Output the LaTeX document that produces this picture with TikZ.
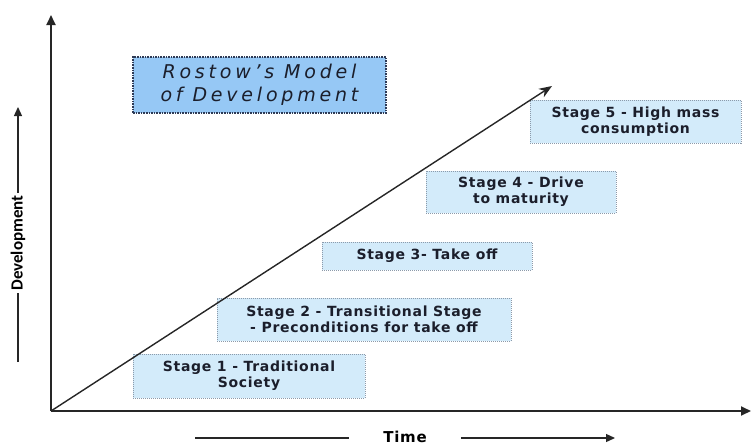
\documentclass[tikz,border=0pt]{standalone}
\usepackage{fontspec}
\setmainfont{DejaVu Sans}
\newfontfamily\stagefont[LetterSpace=5]{DejaVu Sans}
\newfontfamily\titlefont[LetterSpace=20]{DejaVu Sans}
\newfontfamily\axisfont{Carlito}
\usepackage{tikz}
\usetikzlibrary{arrows.meta,positioning}
\definecolor{TitleBlue}{HTML}{96C8F5}
\definecolor{StageBlue}{HTML}{D3EBFA}
\definecolor{DotGray}{HTML}{8C9AAA}
\definecolor{DotNavy}{HTML}{2E3A55}
\definecolor{InkDark}{HTML}{1B1E2B}

\begin{document}
\begin{tikzpicture}[
    x=1pt, y=-1pt,
    stagebox/.style={draw=DotGray, densely dotted, line width=1pt, fill=StageBlue, align=center, text=InkDark, inner sep=0pt, font=\stagefont\bfseries\fontsize{14}{16}\selectfont},
    titlebox/.style={draw=DotNavy, densely dotted, line width=1.6pt, fill=TitleBlue, align=center, text=InkDark, inner sep=0pt, minimum width=253pt, minimum height=56pt, font=\titlefont\itshape\fontsize{19}{23}\selectfont},
    axisarr/.style={line width=1.8pt, draw=black!85, -{Triangle[length=10pt, width=9pt]}},
    growarr/.style={line width=1.4pt, draw=black!85, -{Stealth[length=13pt, width=10pt]}},
    labelarr/.style={line width=1.3pt, draw=black!85, -{Triangle[length=9pt, width=8pt]}}
]
\useasboundingbox (0,0) rectangle (751,445);

% kasten
\node[titlebox] (title) at (259.5,85) {Rostow’s Model\\of Development};
\node[stagebox, minimum width=232pt, minimum height=44pt] (stage1) at (249,376) {Stage 1 - Traditional\\Society};
\node[stagebox, minimum width=294pt, minimum height=43pt] (stage2) at (364,319.5) {Stage 2 - Transitional Stage\\- Preconditions for take off};
\node[stagebox, minimum width=210pt, minimum height=28pt] (stage3) at (427,256) {Stage 3- Take off};
\node[stagebox, minimum width=190pt, minimum height=42pt] (stage4) at (521,192) {Stage 4 - Drive\\to maturity};
\node[stagebox, minimum width=211pt, minimum height=43pt] (stage5) at (635.5,121.5) {Stage 5 - High mass\\consumption};

% achsen
\coordinate (origin) at (51,411);
\coordinate (ytop) at (51,15);
\coordinate (xend) at (751,411);
\coordinate (peak) at (552,86);
\draw[axisarr] (origin) -- (ytop);
\draw[axisarr] (origin) -- (xend);
\draw[growarr] (origin) -- (peak);

% achsenbeschriftung
\node[rotate=90, inner sep=2pt, font=\axisfont\bfseries\fontsize{17}{20}\selectfont] (devlabel) at (18,243) {Development};
\coordinate (devlow) at (18,362);
\coordinate (devtop) at (18,107);
\draw[line width=1.3pt, draw=black!85] (devlow) -- (devlabel.west);
\draw[labelarr] (devlabel.east) -- (devtop);

\node[anchor=base, inner xsep=34pt, inner ysep=0pt, font=\stagefont\bfseries\fontsize{15}{17}\selectfont] (timelabel) at (405,442) {Time};
\coordinate (timeleft) at (195,438);
\coordinate (timeright) at (615,438);
\draw[line width=1.3pt, draw=black!85] (timeleft) -- (timeleft -| timelabel.west);
\draw[labelarr] (timeright -| timelabel.east) -- (timeright);
\end{tikzpicture}
\end{document}
